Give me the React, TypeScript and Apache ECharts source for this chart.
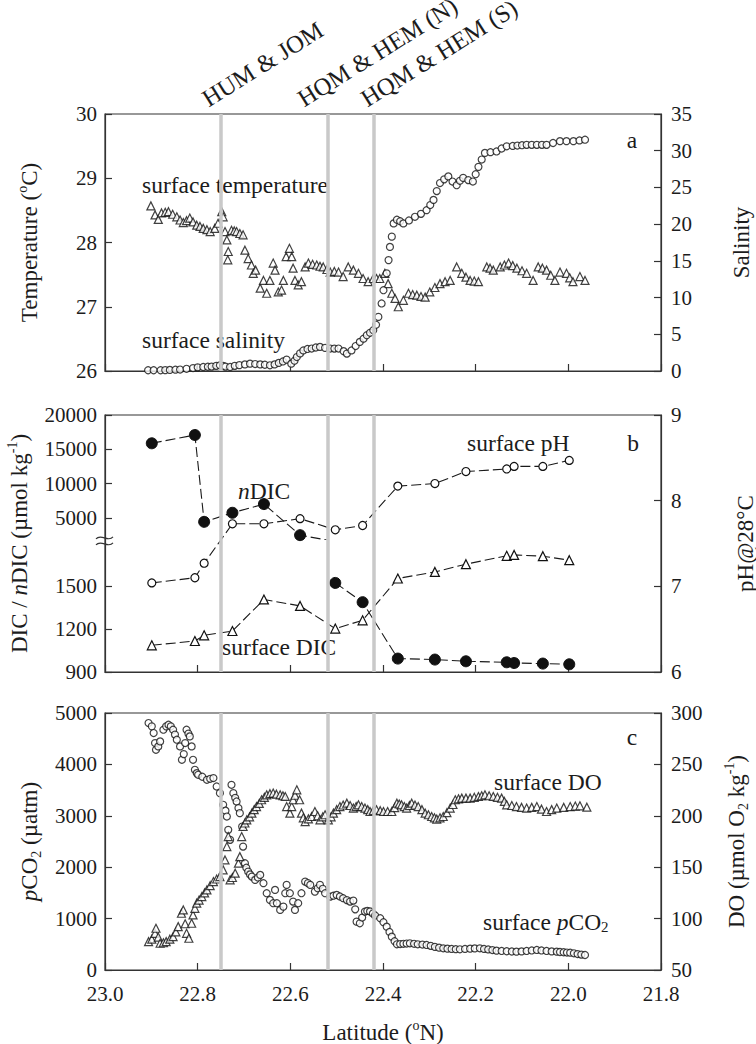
import React, { useEffect, useRef } from "react";
import * as echarts from "echarts";

// ---------------- DATA ----------------
// Panel a: surface temperature (°C) vs latitude (°N)
const temperatureData: [number, number][] = [
  [22.901, 28.57], [22.892, 28.43], [22.885, 28.36], [22.878, 28.46], [22.870, 28.47], [22.863, 28.48],
  [22.854, 28.44], [22.845, 28.40], [22.838, 28.35], [22.831, 28.31], [22.824, 28.34], [22.817, 28.38],
  [22.810, 28.32], [22.802, 28.27], [22.795, 28.25], [22.788, 28.22], [22.780, 28.2], [22.773, 28.17],
  [22.763, 28.22], [22.756, 28.30], [22.748, 28.48], [22.745, 28.40], [22.741, 28.17], [22.737, 28.04],
  [22.734, 27.86], [22.735, 27.73], [22.727, 28.19], [22.721, 28.18], [22.716, 28.17], [22.709, 28.14],
  [22.702, 28.12], [22.698, 27.88], [22.691, 27.75], [22.684, 27.65], [22.680, 27.52], [22.675, 27.57],
  [22.665, 27.29], [22.658, 27.41], [22.651, 27.21], [22.644, 27.41], [22.637, 27.68], [22.633, 27.57],
  [22.626, 27.23], [22.619, 27.26], [22.615, 27.41], [22.609, 27.78], [22.602, 27.91], [22.597, 27.78],
  [22.594, 27.60], [22.590, 27.41], [22.583, 27.34], [22.576, 27.39], [22.568, 27.62], [22.561, 27.68],
  [22.552, 27.66], [22.543, 27.65], [22.536, 27.63], [22.529, 27.62], [22.521, 27.58], [22.514, 27.54],
  [22.505, 27.55], [22.496, 27.54], [22.486, 27.47], [22.475, 27.62], [22.464, 27.57], [22.453, 27.52],
  [22.443, 27.44], [22.432, 27.39], [22.421, 27.44], [22.414, 27.44], [22.407, 27.44], [22.396, 27.52],
  [22.389, 27.36], [22.381, 27.21], [22.374, 27.13], [22.367, 27.00], [22.356, 27.10], [22.345, 27.21],
  [22.336, 27.19], [22.327, 27.18], [22.318, 27.16], [22.309, 27.15], [22.299, 27.23], [22.288, 27.30],
  [22.277, 27.36], [22.266, 27.39], [22.255, 27.41], [22.241, 27.62], [22.230, 27.52], [22.221, 27.46],
  [22.212, 27.41], [22.203, 27.40], [22.194, 27.39], [22.176, 27.62], [22.169, 27.6], [22.162, 27.57],
  [22.147, 27.62], [22.138, 27.65], [22.129, 27.68], [22.120, 27.64], [22.111, 27.60], [22.100, 27.56],
  [22.090, 27.52], [22.076, 27.41], [22.065, 27.62], [22.056, 27.6], [22.047, 27.57], [22.038, 27.49],
  [22.029, 27.41], [22.018, 27.54], [22.004, 27.52], [21.997, 27.45], [21.990, 27.39], [21.975, 27.47],
  [21.964, 27.41],
];

// Panel a: surface salinity vs latitude
const salinityData: [number, number][] = [
  [22.907, 0.1], [22.895, 0.1], [22.88, 0.1], [22.87, 0.12], [22.86, 0.15], [22.848, 0.18], [22.838, 0.2],
  [22.824, 0.3], [22.81, 0.4], [22.8, 0.5], [22.788, 0.55], [22.778, 0.58], [22.77, 0.6], [22.76, 0.7],
  [22.752, 0.78], [22.745, 0.7], [22.74, 0.6], [22.73, 0.55], [22.72, 0.7], [22.71, 0.8], [22.698, 0.9],
  [22.687, 1.0], [22.676, 0.95], [22.665, 0.9], [22.655, 0.85], [22.644, 0.78], [22.634, 0.9], [22.625, 1.1],
  [22.616, 1.3], [22.608, 1.55], [22.598, 1.0], [22.591, 1.4], [22.586, 1.9], [22.579, 2.4], [22.572, 2.8],
  [22.563, 3.0], [22.554, 3.06], [22.545, 3.2], [22.536, 3.28], [22.525, 3.15], [22.514, 3.06],
  [22.505, 3.05], [22.496, 3.06], [22.485, 2.7], [22.478, 2.37], [22.468, 2.8], [22.459, 3.4], [22.45, 3.96],
  [22.442, 4.4], [22.435, 4.87], [22.428, 5.2], [22.421, 5.55], [22.415, 6.3], [22.41, 7.37], [22.403, 9.2],
  [22.399, 11.0], [22.392, 13.3], [22.388, 15.1], [22.385, 16.9], [22.381, 18.3], [22.377, 20.1],
  [22.37, 20.6], [22.363, 20.4], [22.356, 20.1], [22.344, 20.5], [22.331, 21.0], [22.318, 21.4],
  [22.306, 21.9], [22.298, 22.6], [22.291, 23.3], [22.284, 24.5], [22.277, 25.6], [22.268, 26.1],
  [22.259, 26.5], [22.25, 25.8], [22.241, 25.3], [22.234, 25.9], [22.227, 26.3], [22.216, 26.0],
  [22.206, 25.8], [22.2, 26.8], [22.194, 27.8], [22.187, 28.8], [22.18, 29.7], [22.168, 29.8],
  [22.155, 29.9], [22.144, 30.3], [22.133, 30.6], [22.12, 30.65], [22.11, 30.7], [22.1, 30.75],
  [22.09, 30.8], [22.079, 30.8], [22.068, 30.8], [22.057, 30.8], [22.047, 30.8], [22.033, 31.05],
  [22.018, 31.3], [22.004, 31.3], [21.989, 31.3], [21.976, 31.4], [21.964, 31.5],
];

// Panel b: discrete stations
const stationLat = [22.899, 22.806, 22.786, 22.725, 22.657, 22.579, 22.503, 22.444, 22.368, 22.288, 22.221, 22.133, 22.117, 22.055, 21.998];
const surfacePH = [7.04, 7.10, 7.27, 7.73, 7.73, 7.79, 7.66, 7.71, 8.17, 8.20, 8.34, 8.37, 8.40, 8.40, 8.47];
const surfaceDIC = [1087, 1117, 1157, 1187, 1408, 1363, 1204, 1262, 1555, 1601, 1655, 1714, 1720, 1711, 1683];
const nDIC = [15870, 17080, 4410, 5730, 7000, 2470, 1524, 1389, 994, 987, 975, 968, 963, 959, 954];
const dicTickValues = [900, 1200, 1500, 5000, 10000, 15000, 20000];

// Panel c: surface pCO2 (µatm) vs latitude
const pco2Data: [number, number][] = [
  [22.906, 4805], [22.899, 4740], [22.895, 4610], [22.892, 4415], [22.890, 4285], [22.885, 4350],
  [22.881, 4447], [22.874, 4675], [22.868, 4740], [22.863, 4772], [22.858, 4740], [22.853, 4675],
  [22.849, 4580], [22.845, 4480], [22.838, 4350], [22.834, 4090], [22.830, 4200], [22.827, 4415],
  [22.824, 4675], [22.820, 4600], [22.817, 4545], [22.813, 4350], [22.810, 4090], [22.806, 3895],
  [22.802, 3830], [22.799, 3798], [22.790, 3760], [22.780, 3700], [22.773, 3720], [22.766, 3734],
  [22.759, 3570], [22.752, 3441], [22.745, 3214], [22.740, 3100], [22.737, 2986], [22.734, 2727],
  [22.730, 2532], [22.727, 3603], [22.723, 3441], [22.719, 3350], [22.716, 3278], [22.712, 3150],
  [22.709, 3052], [22.704, 2791], [22.702, 2401], [22.698, 2078], [22.695, 1990], [22.691, 1915],
  [22.687, 1860], [22.683, 1817], [22.676, 1753], [22.670, 1800], [22.665, 1850], [22.658, 1689],
  [22.651, 1494], [22.644, 1364], [22.637, 1299], [22.633, 1558], [22.629, 1299], [22.622, 1169],
  [22.615, 1233], [22.611, 1494], [22.608, 1656], [22.601, 1494], [22.594, 1331], [22.590, 1169],
  [22.583, 1299], [22.576, 1494], [22.568, 1720], [22.562, 1690], [22.557, 1656], [22.547, 1525],
  [22.541, 1590], [22.536, 1656], [22.530, 1580], [22.525, 1494], [22.514, 1428], [22.507, 1445],
  [22.500, 1461], [22.493, 1430], [22.486, 1397], [22.478, 1360], [22.471, 1331], [22.464, 1350],
  [22.460, 1180], [22.457, 941], [22.450, 909], [22.445, 1020], [22.439, 1136], [22.434, 1150],
  [22.428, 1140], [22.422, 1100], [22.417, 1060], [22.406, 1007], [22.399, 930], [22.392, 843],
  [22.386, 740], [22.381, 649], [22.375, 560], [22.370, 500], [22.363, 505], [22.356, 510],
  [22.349, 515], [22.342, 520], [22.333, 510], [22.325, 500], [22.315, 495], [22.306, 487],
  [22.297, 470], [22.288, 450], [22.279, 435], [22.270, 422], [22.261, 415], [22.252, 410],
  [22.243, 405], [22.234, 403], [22.223, 410], [22.212, 415], [22.202, 420], [22.191, 422],
  [22.182, 410], [22.173, 400], [22.164, 388], [22.155, 376], [22.144, 370], [22.133, 365],
  [22.122, 360], [22.112, 357], [22.101, 362], [22.090, 370], [22.079, 380], [22.068, 390],
  [22.058, 380], [22.047, 370], [22.036, 362], [22.025, 357], [22.018, 350], [22.010, 345],
  [22.003, 340], [21.996, 337], [21.988, 325], [21.980, 310], [21.972, 300], [21.964, 292],
];

// Panel c: surface DO (µmol O2 kg-1) vs latitude
const doData: [number, number][] = [
  [22.906, 77.6], [22.899, 80.0], [22.892, 85.7], [22.890, 90.6], [22.885, 82.0], [22.881, 76.0],
  [22.874, 76.5], [22.868, 77.6], [22.860, 80.0], [22.853, 82.4], [22.847, 87.0], [22.842, 92.2],
  [22.835, 105.2], [22.831, 108.4], [22.827, 95.0], [22.824, 85.7], [22.819, 80.9], [22.813, 95.5],
  [22.810, 103.6], [22.806, 110.0], [22.802, 115.0], [22.797, 118.0], [22.791, 121.4], [22.785, 125.0],
  [22.780, 127.9], [22.773, 132.0], [22.766, 136.0], [22.759, 138.5], [22.752, 140.9], [22.745, 147.4],
  [22.741, 157.1], [22.737, 170.1], [22.734, 179.8], [22.730, 137.7], [22.725, 140.0], [22.719, 144.2],
  [22.712, 153.9], [22.709, 160.3], [22.705, 179.8], [22.702, 189.6], [22.698, 193.0], [22.694, 196.1],
  [22.688, 199.0], [22.683, 202.6], [22.678, 206.0], [22.673, 209.0], [22.667, 212.0], [22.662, 215.6],
  [22.656, 218.0], [22.651, 220.4], [22.644, 221.5], [22.637, 222.1], [22.630, 221.0], [22.622, 220.4],
  [22.616, 219.5], [22.611, 218.8], [22.608, 209.0], [22.601, 202.6], [22.597, 209.0], [22.594, 215.6],
  [22.590, 220.0], [22.586, 225.3], [22.580, 215.6], [22.576, 202.6], [22.572, 198.0], [22.568, 194.4],
  [22.561, 197.0], [22.554, 199.3], [22.547, 204.2], [22.541, 200.0], [22.536, 196.1], [22.530, 199.0],
  [22.525, 201.0], [22.518, 196.1], [22.512, 199.0], [22.507, 202.6], [22.500, 206.0], [22.493, 209.0],
  [22.486, 210.5], [22.478, 212.3], [22.471, 210.0], [22.464, 207.5], [22.458, 209.0], [22.453, 210.7],
  [22.446, 209.0], [22.439, 207.5], [22.433, 206.0], [22.428, 204.2], [22.421, 205.0], [22.414, 205.8],
  [22.406, 205.0], [22.399, 204.2], [22.390, 204.2], [22.381, 204.2], [22.375, 208.0], [22.370, 212.3],
  [22.365, 211.5], [22.360, 210.7], [22.354, 209.0], [22.349, 207.5], [22.343, 210.0], [22.338, 212.3],
  [22.331, 210.5], [22.324, 209.0], [22.316, 206.0], [22.309, 202.6], [22.302, 201.0], [22.295, 199.3],
  [22.289, 198.0], [22.284, 196.8], [22.277, 198.0], [22.270, 199.3], [22.262, 203.0], [22.255, 207.5],
  [22.249, 211.0], [22.244, 215.6], [22.237, 216.5], [22.230, 217.2], [22.221, 217.2], [22.212, 217.2],
  [22.203, 218.0], [22.194, 218.8], [22.187, 219.5], [22.180, 220.4], [22.171, 219.5], [22.162, 218.8],
  [22.153, 218.0], [22.144, 217.2], [22.138, 214.0], [22.133, 210.7], [22.122, 210.0], [22.112, 209.0],
  [22.101, 208.2], [22.090, 207.5], [22.079, 208.2], [22.068, 209.0], [22.058, 206.5], [22.047, 204.2],
  [22.036, 206.0], [22.025, 207.5], [22.010, 208.2], [21.996, 209.0], [21.985, 209.5], [21.975, 209.7],
  [21.960, 208.4],
];

// Water-mass boundaries (°N)
const boundaryLat = [22.75, 22.52, 22.42];
const boundaryNames = ["HUM & JOM", "HQM & HEM (N)", "HQM & HEM (S)"];

// ---------------- STYLE / LAYOUT ----------------
const FONT = "Liberation Serif, Times New Roman, DejaVu Serif, serif";
const AX = "#333";
const TXT = "#1c1c1c";
const GRID_LEFT = 105;
const GRID_RIGHT = 95;
const PANEL_H = 257;
const TOPS = [114, 415, 713];
const UPPER_CLIP = 3.095; // broken-axis coordinate where upper nDIC segment is clipped

// broken DIC axis: 900–1800 lower scale; 5000–20000 upper scale
const lowerT = (v: number) => (v - 900) / 300;
const upperT = (v: number) => 3.6 + (v - 5000) * 0.00016;
const dicT = (v: number) => (v <= 1800 ? lowerT(v) : upperT(v));

const plain = (v: number) => String(v);

const xAxisFor = (gridIndex: number, showLabels: boolean, extra: any = {}) => ({
  type: "value",
  gridIndex,
  min: 21.8,
  max: 23.0,
  interval: 0.2,
  inverse: true,
  axisLine: { show: true, onZero: false, lineStyle: { color: AX, width: 1.2 } },
  axisTick: { show: true, inside: true, length: 7, lineStyle: { color: AX, width: 1.2 } },
  axisLabel: {
    show: showLabels,
    formatter: (v: number) => v.toFixed(1),
    fontFamily: FONT,
    fontSize: 21,
    color: TXT,
    margin: 13,
  },
  splitLine: { show: false },
  ...extra,
});

const nameStyle = {
  fontFamily: FONT,
  fontSize: 23,
  color: TXT,
  lineHeight: 28,
  rich: {
    sup: { fontFamily: FONT, fontSize: 14, verticalAlign: "top", lineHeight: 16, color: TXT },
    sub: { fontFamily: FONT, fontSize: 14, verticalAlign: "bottom", lineHeight: 14, color: TXT },
    i: { fontFamily: FONT, fontSize: 23, fontStyle: "italic", color: TXT, lineHeight: 28 },
  },
};

const yAxisFor = (gridIndex: number, position: "left" | "right", name: string, nameGap: number, extra: any) => ({
  type: "value",
  gridIndex,
  position,
  name,
  nameLocation: "middle",
  nameRotate: 90,
  nameGap,
  nameTextStyle: nameStyle,
  axisLine: { show: true, lineStyle: { color: AX, width: 1.2 } },
  axisTick: { show: true, inside: true, length: 7, lineStyle: { color: AX, width: 1.2 } },
  axisLabel: { fontFamily: FONT, fontSize: 21, color: TXT, margin: position === "left" ? 8 : 10, formatter: plain },
  splitLine: { show: false },
  ...extra,
});

const boundarySeries = (xAxisIndex: number, yAxisIndex: number) => ({
  type: "line",
  xAxisIndex,
  yAxisIndex,
  data: [],
  z: 1,
  silent: true,
  markLine: {
    silent: true,
    symbol: ["none", "none"],
    label: { show: false },
    lineStyle: { color: "#c9c9c9", width: 3.5, type: "solid" },
    data: boundaryLat.map((v) => ({ xAxis: v })),
  },
});

const openMarker = { color: "#fff", borderColor: "#111", borderWidth: 1.2 };
const dashLine = { color: "#1a1a1a", width: 1.1, type: [10, 4] as any };

const gridBase = {
  left: GRID_LEFT,
  right: GRID_RIGHT,
  height: PANEL_H,
  containLabel: false,
  outerBoundsMode: "none",
};

export default function App() {
  const ref = useRef<HTMLDivElement>(null);

  useEffect(() => {
    document.body.style.margin = "0";
    const chart = echarts.init(ref.current!, null, { renderer: "svg" });

    const dicCustom = dicTickValues.map(dicT);
    const dicLabel = (val: number) => {
      for (let i = 0; i < dicCustom.length; i++) {
        if (Math.abs(dicCustom[i] - val) < 1e-6) return String(dicTickValues[i]);
      }
      return "";
    };

    const upperGridH = (PANEL_H * (6 - UPPER_CLIP)) / 6;

    const option: any = {
      animation: false,
      backgroundColor: "#fff",
      textStyle: { fontFamily: FONT },
      grid: [
        { ...gridBase, top: TOPS[0], show: true, borderColor: AX, borderWidth: 1.2, backgroundColor: "transparent" },
        { ...gridBase, top: TOPS[1], show: true, borderColor: AX, borderWidth: 1.2, backgroundColor: "transparent" },
        { ...gridBase, top: TOPS[2], show: true, borderColor: AX, borderWidth: 1.2, backgroundColor: "transparent" },
        { ...gridBase, top: TOPS[1], height: upperGridH, show: false },
      ],
      xAxis: [
        xAxisFor(0, false),
        xAxisFor(1, false),
        xAxisFor(2, true, {
          name: "Latitude ({sup|o}N)",
          nameLocation: "middle",
          nameGap: 48,
          nameTextStyle: nameStyle,
        }),
        { type: "value", gridIndex: 3, min: 21.8, max: 23.0, inverse: true, show: false },
      ],
      yAxis: [
        yAxisFor(0, "left", "Temperature ({sup|o}C)", 62, { min: 26, max: 30, interval: 1 }),
        yAxisFor(0, "right", "Salinity", 66, { min: 0, max: 35, interval: 5 }),
        yAxisFor(1, "left", "DIC / {i|n}DIC (µmol kg{sup|-1})", 62, {
          min: 0,
          max: 6,
          axisLabel: { fontFamily: FONT, fontSize: 21, color: TXT, margin: 8, customValues: dicCustom, formatter: dicLabel },
          axisTick: { show: true, inside: true, length: 7, customValues: dicCustom, lineStyle: { color: AX, width: 1.2 } },
        }),
        yAxisFor(1, "right", "pH@28°C", 70, { min: 6, max: 9, interval: 1 }),
        yAxisFor(2, "left", "{i|p}CO{sub|2} (µatm)", 62, { min: 0, max: 5000, interval: 1000 }),
        yAxisFor(2, "right", "DO (µmol O{sub|2} kg{sup|-1})", 61, { min: 50, max: 300, interval: 50 }),
        { type: "value", gridIndex: 3, min: UPPER_CLIP, max: 6, show: false },
      ],
      series: [
        // panel a
        boundarySeries(0, 0),
        {
          name: "surface temperature",
          type: "scatter",
          xAxisIndex: 0,
          yAxisIndex: 0,
          data: temperatureData,
          symbol: "triangle",
          symbolSize: 8,
          itemStyle: openMarker,
          z: 3,
        },
        {
          name: "surface salinity",
          type: "scatter",
          xAxisIndex: 0,
          yAxisIndex: 1,
          data: salinityData,
          symbol: "circle",
          symbolSize: 7,
          itemStyle: openMarker,
          z: 3,
        },
        // panel b
        boundarySeries(1, 2),
        {
          name: "surface pH",
          type: "line",
          xAxisIndex: 1,
          yAxisIndex: 3,
          data: stationLat.map((la, i) => [la, surfacePH[i]]),
          symbol: "circle",
          symbolSize: 8,
          showAllSymbol: true,
          itemStyle: openMarker,
          lineStyle: dashLine,
          z: 3,
        },
        {
          name: "surface DIC",
          type: "line",
          xAxisIndex: 1,
          yAxisIndex: 2,
          data: stationLat.map((la, i) => [la, lowerT(surfaceDIC[i])]),
          symbol: "triangle",
          symbolSize: 9,
          showAllSymbol: true,
          itemStyle: openMarker,
          lineStyle: dashLine,
          z: 3,
        },
        {
          name: "nDIC (lower)",
          type: "line",
          xAxisIndex: 1,
          yAxisIndex: 2,
          data: stationLat.slice(6).map((la, i) => [la, lowerT(nDIC[i + 6])]),
          symbol: "circle",
          symbolSize: 11,
          showAllSymbol: true,
          itemStyle: { color: "#111", borderColor: "#111", borderWidth: 1 },
          lineStyle: dashLine,
          z: 3,
        },
        {
          name: "nDIC (upper)",
          type: "line",
          xAxisIndex: 3,
          yAxisIndex: 6,
          clip: true,
          data: stationLat.slice(0, 7).map((la, i) =>
            i === 6 ? { value: [la, upperT(nDIC[i])], symbol: "none" } : { value: [la, upperT(nDIC[i])] }
          ),
          symbol: "circle",
          symbolSize: 11,
          showAllSymbol: true,
          itemStyle: { color: "#111", borderColor: "#111", borderWidth: 1 },
          lineStyle: dashLine,
          z: 3,
        },
        // panel c
        boundarySeries(2, 4),
        {
          name: "surface pCO2",
          type: "scatter",
          xAxisIndex: 2,
          yAxisIndex: 4,
          data: pco2Data,
          symbol: "circle",
          symbolSize: 7,
          itemStyle: openMarker,
          z: 3,
        },
        {
          name: "surface DO",
          type: "scatter",
          xAxisIndex: 2,
          yAxisIndex: 5,
          data: doData,
          symbol: "triangle",
          symbolSize: 8,
          itemStyle: openMarker,
          z: 3,
        },
      ],
    };

    chart.setOption(option);

    // annotations, positioned after layout
    const px = (gi: number, lat: number) => chart.convertToPixel({ xAxisIndex: gi }, lat) as number;
    const breakY = chart.convertToPixel({ yAxisIndex: 2 }, 3.06) as number;
    const axisX = px(1, 23.0);

    const annoStyle = (text: string, extra: any = {}) => ({
      text,
      fontFamily: FONT,
      fontSize: 23.5,
      fill: TXT,
      align: "left",
      verticalAlign: "middle",
      rich: {
        i: { fontFamily: FONT, fontSize: 23.5, fontStyle: "italic", fill: TXT },
        sub: { fontFamily: FONT, fontSize: 15, fill: TXT, verticalAlign: "bottom", lineHeight: 14 },
      },
      ...extra,
    });

    const rot = (32 * Math.PI) / 180;
    const topLabelOffsets = [-10, -21, -4];

    const graphic: any[] = [
      ...boundaryNames.map((t, i) => ({
        type: "text",
        x: px(0, boundaryLat[i]) + topLabelOffsets[i],
        y: TOPS[0] - 3,
        rotation: rot,
        style: { text: t, fontFamily: FONT, fontSize: 24.5, fill: TXT, align: "left", verticalAlign: "bottom" },
      })),
      { type: "text", x: 142, y: 185, style: annoStyle("surface temperature") },
      { type: "text", x: 142, y: 340, style: annoStyle("surface salinity") },
      { type: "text", x: 238, y: 491, style: annoStyle("{i|n}DIC") },
      { type: "text", x: 222, y: 647, style: annoStyle("surface DIC") },
      { type: "text", x: 467, y: 443, style: annoStyle("surface pH") },
      { type: "text", x: 494, y: 782, style: annoStyle("surface DO") },
      { type: "text", x: 483, y: 922, style: annoStyle("surface {i|p}CO{sub|2}") },
      { type: "text", x: 632, y: 140, style: annoStyle("a", { align: "center" }) },
      { type: "text", x: 633, y: 443, style: annoStyle("b", { align: "center" }) },
      { type: "text", x: 632, y: 737, style: annoStyle("c", { align: "center" }) },
      // axis-break marks
      ...[-3, 3].map((d) => ({
        type: "bezierCurve",
        shape: {
          x1: axisX - 9,
          y1: breakY + d + 1,
          cpx1: axisX - 4,
          cpy1: breakY + d - 5,
          cpx2: axisX + 3,
          cpy2: breakY + d + 5,
          x2: axisX + 8,
          y2: breakY + d - 1,
        },
        style: { stroke: AX, lineWidth: 1.2, fill: "none" },
        z: 10,
      })),
    ];

    chart.setOption({ graphic });

    return () => chart.dispose();
  }, []);

  return <div ref={ref} style={{ width: 756, height: 1044 }} />;
}
